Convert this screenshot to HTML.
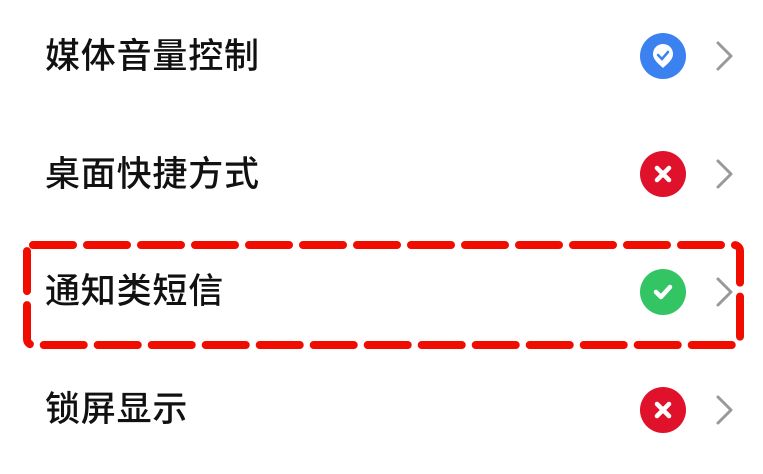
<!DOCTYPE html>
<html><head><meta charset="utf-8"><style>
body{margin:0;width:763px;height:474px;background:#fff;overflow:hidden;position:relative}
.t{position:absolute;left:45px;font-family:"Liberation Sans","Noto Sans CJK SC",sans-serif;font-size:35px;font-weight:500;color:#111;line-height:40px;letter-spacing:0.8px}
svg{position:absolute;left:0;top:0}
</style></head><body>
<div class="t" style="top:37px">媒体音量控制</div>
<div class="t" style="top:155px">桌面快捷方式</div>
<div class="t" style="top:272px">通知类短信</div>
<div class="t" style="top:390px">锁屏显示</div>
<svg width="763" height="474">
<g fill="none" stroke="#999" stroke-width="3" stroke-linecap="round" stroke-linejoin="round">
<polyline points="718,43 731,56 718,69"/>
<polyline points="718,161 731,174 718,187"/>
<polyline points="718,279 731,292 718,305"/>
<polyline points="718,397 731,410 718,423"/>
</g>
<circle cx="663" cy="56" r="23" fill="#3b82f0"/>
<path d="M663 44 a10 10 0 0 1 10 10 c0 6 -6 10 -10 14 c-4 -4 -10 -8 -10 -14 a10 10 0 0 1 10 -10z" fill="#fff"/>
<polyline points="658,55 662,59 668,52" fill="none" stroke="#3b82f0" stroke-width="2.5" stroke-linecap="round"/>
<circle cx="663" cy="174" r="23" fill="#e0112b"/>
<g stroke="#fff" stroke-width="4.5" stroke-linecap="round"><line x1="657" y1="168" x2="669" y2="180"/><line x1="669" y1="168" x2="657" y2="180"/></g>
<circle cx="663" cy="292" r="23" fill="#33c463"/>
<polyline points="656,292 661,297 670,287" fill="none" stroke="#fff" stroke-width="4.5" stroke-linecap="round" stroke-linejoin="round"/>
<circle cx="663" cy="410" r="23" fill="#e0112b"/>
<g stroke="#fff" stroke-width="4.5" stroke-linecap="round"><line x1="657" y1="404" x2="669" y2="416"/><line x1="669" y1="404" x2="657" y2="416"/></g>
<rect x="27" y="245" width="713" height="100" rx="6" fill="none" stroke="#f00d00" stroke-width="8" stroke-linecap="round" stroke-dasharray="40 14"/>
</svg>
</body></html>
